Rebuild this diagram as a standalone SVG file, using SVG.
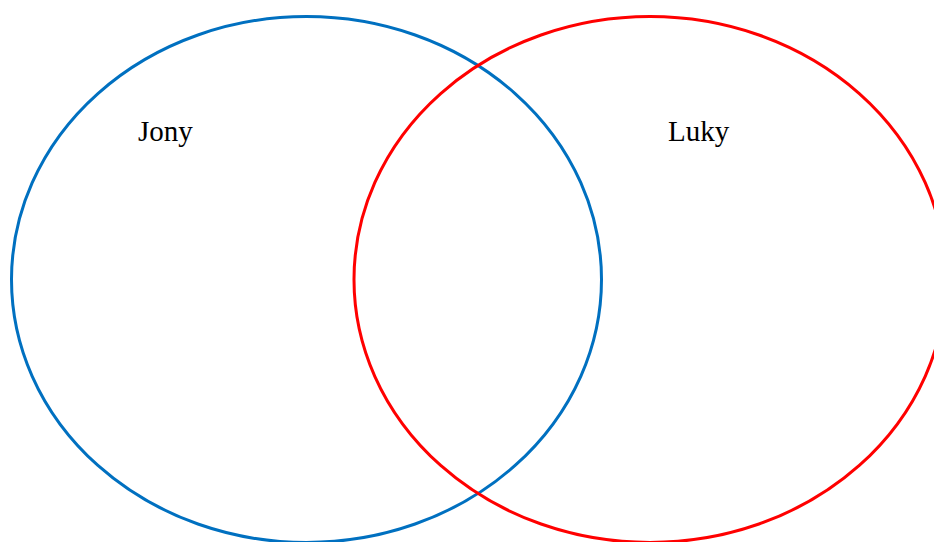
<svg xmlns="http://www.w3.org/2000/svg" width="934" height="542" viewBox="0 0 934 542">
<style>
.c{fill:none;stroke-width:3}
.t{font-family:"Liberation Serif","Times New Roman",serif;font-size:29px;fill:#000}
</style>
<rect width="934" height="542" fill="#fff"/>
<g id="jony">
<ellipse class="c" cx="306.5" cy="279.5" rx="295" ry="263" stroke="#0070C0"/>
<text class="t" x="138" y="141">Jony</text>
</g>
<g id="luky">
<ellipse class="c" cx="650" cy="279.5" rx="296" ry="263" stroke="#FF0000"/>
<text class="t" x="668" y="141">Luky</text>
</g>
<g id="connectors"></g>
</svg>
